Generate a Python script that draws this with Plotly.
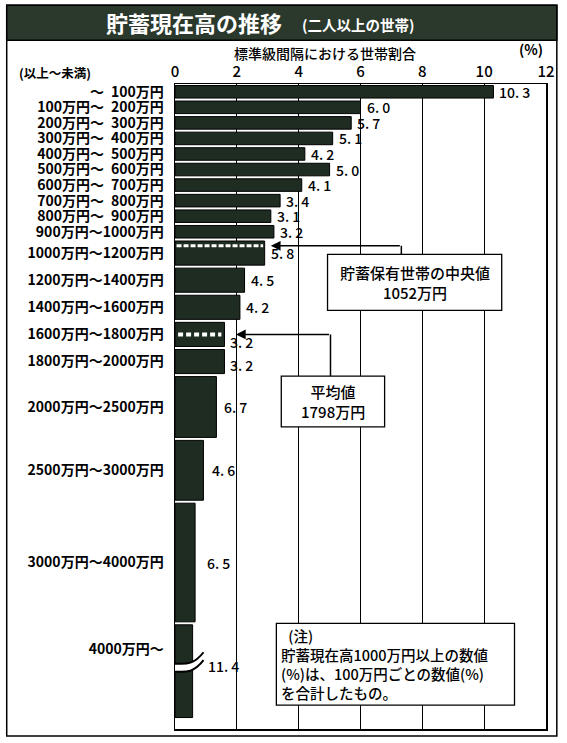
import plotly.graph_objects as go
import numpy as np

# ---------------- data ----------------
labels = ["～\u2002100万円", "100万円～\u2002200万円", "200万円～\u2002300万円", "300万円～\u2002400万円",
          "400万円～\u2002500万円", "500万円～\u2002600万円", "600万円～\u2002700万円", "700万円～\u2002800万円",
          "800万円～\u2002900万円", "900万円～1000万円", "1000万円～1200万円", "1200万円～1400万円",
          "1400万円～1600万円", "1600万円～1800万円", "1800万円～2000万円", "2000万円～2500万円",
          "2500万円～3000万円", "3000万円～4000万円", "4000万円～"]
pct = [10.3, 6.0, 5.7, 5.1, 4.2, 5.0, 4.1, 3.4, 3.1, 3.2, 5.8, 4.5, 4.2, 3.2, 3.2, 6.7, 4.6, 6.5, 11.4]
lower = [0, 100, 200, 300, 400, 500, 600, 700, 800, 900, 1000, 1200, 1400, 1600, 1800, 2000, 2500, 3000, 4000]
class_width = [1] * 10 + [2] * 5 + [5, 5, 10, 20]   # in 100万円 units (last one: open class, display only)
median_val = 1052
mean_val = 1798
x_ticks = [0, 2, 4, 6, 8, 10, 12]

# ---------------- layout helpers (style) ----------------
W, H = 567, 743
ML, MR, MT, MB = 175, 15, 84, 12
PW, PH = W - ML - MR, H - MT - MB
row_h = [15.6] * 10 + [27.2] * 5 + [64, 63, 122, 96]
gap = 3
FONT = "Noto Sans CJK JP"
BAR = "#1e2c21"

tops = np.concatenate([[0], np.cumsum(row_h)[:-1]])
centers = tops + np.array(row_h) / 2
lengths = [p / w for p, w in zip(pct, class_width)]
xs = PW / 12.0  # px per x unit


def px(x):
    return (x - ML) / PW


def py(y):
    return 1 - (y - MT) / PH


fig = go.Figure()
fig.add_trace(go.Bar(
    orientation="h", x=lengths, y=centers, width=[h - gap for h in row_h],
    marker=dict(color=BAR, line=dict(color="black", width=1)),
    hoverinfo="skip", showlegend=False))

shapes = []
ann = []

# value labels
dx = [4] * 15 + [6, 7, 10, 13]
dy = [0] * 13 + [-8, -3] + [0, 0, 0, 5]
for i, (L, v) in enumerate(zip(lengths, pct)):
    ann.append(dict(x=L, y=centers[i], xref="x", yref="y", text=f"{v:.1f}".replace(".", ". "),
                    showarrow=False, xanchor="left", yanchor="middle", xshift=dx[i], yshift=dy[i],
                    font=dict(family=FONT, size=14, color="black", weight=500)))


def marker_y(val):
    for i in range(len(lower) - 1):
        if lower[i] <= val < lower[i + 1]:
            return tops[i], row_h[i], (val - lower[i]) / (lower[i + 1] - lower[i]), i
    return None


# median marker (interpolated within its class)
t, h, f, im = marker_y(median_val)
y_med = t + gap / 2 + 1 + f * (h - gap) * 0.6
shapes.append(dict(type="line", xref="x", yref="y", x0=0.05, x1=lengths[im] - 0.05, y0=y_med, y1=y_med,
                   line=dict(color="white", width=3, dash="5px,2px"), layer="above"))
# mean marker (drawn at centre of its class bar)
t, h, f, iM = marker_y(mean_val)
y_mean = centers[iM]
shapes.append(dict(type="line", xref="x", yref="y", x0=0.1, x1=lengths[iM] - 0.1, y0=y_mean, y1=y_mean,
                   line=dict(color="white", width=4, dash="5px,3px"), layer="above"))

# boxes (x in axis units, y in row units)
med_box = dict(x0=(330 - ML) / xs, x1=(507 - ML) / xs, y0=255 - MT, y1=311 - MT)
mean_box = dict(x0=(283 - ML) / xs, x1=(388 - ML) / xs, y0=377 - MT, y1=428 - MT)
note_box = dict(x0=(278 - ML) / xs, x1=(520 - ML) / xs, y0=625 - MT, y1=707 - MT)
for b in (med_box, mean_box, note_box):
    shapes.append(dict(type="rect", xref="x", yref="y", fillcolor="white",
                       line=dict(color="black", width=1.3), layer="above", **b))

# connectors
med_cx = (405 - ML) / xs
mean_cx = (333 - ML) / xs
shapes.append(dict(type="line", xref="x", yref="y", x0=med_cx, x1=med_cx, y0=y_med, y1=med_box["y0"],
                   line=dict(color="black", width=1.5), layer="above"))
shapes.append(dict(type="line", xref="x", yref="y", x0=mean_cx, x1=mean_cx, y0=y_mean, y1=mean_box["y0"],
                   line=dict(color="black", width=1.5), layer="above"))
ann.append(dict(x=lengths[im] + 0.2, y=y_med, xref="x", yref="y", ax=med_cx, ay=y_med, axref="x", ayref="y",
                text="", showarrow=True, arrowhead=2, arrowsize=1.3, arrowwidth=1.5, arrowcolor="black",
                standoff=0))
ann.append(dict(x=lengths[iM] + 0.37, y=y_mean, xref="x", yref="y", ax=mean_cx, ay=y_mean, axref="x",
                ayref="y", text="", showarrow=True, arrowhead=2, arrowsize=1.3, arrowwidth=1.5,
                arrowcolor="black", standoff=0))

ann.append(dict(x=(med_box["x0"] + med_box["x1"]) / 2, y=(med_box["y0"] + med_box["y1"]) / 2,
                xref="x", yref="y", showarrow=False, xanchor="center", yanchor="middle",
                text="貯蓄保有世帯の中央値<br>" + f"{median_val}万円",
                font=dict(family=FONT, size=15, color="black", weight=500)))
ann.append(dict(x=(mean_box["x0"] + mean_box["x1"]) / 2, y=(mean_box["y0"] + mean_box["y1"]) / 2,
                xref="x", yref="y", showarrow=False, xanchor="center", yanchor="middle",
                text="平均値<br>" + f"{mean_val}万円",
                font=dict(family=FONT, size=15, color="black", weight=500)))
ann.append(dict(x=note_box["x0"], y=(note_box["y0"] + note_box["y1"]) / 2, xref="x", yref="y",
                showarrow=False, xanchor="left", yanchor="middle", align="left", xshift=3,
                text="\u2002(注)<br>貯蓄現在高1000万円以上の数値<br>(%)は、100万円ごとの数値(%)<br>を合計したもの。",
                font=dict(family=FONT, size=14.5, color="black", weight=500)))

# axis break mark on last bar
yc = centers[-1] - 6


def curve(d):
    pts = [(-11, 5 + d), (-2, -10 + d), (12, 9 + d), (29, -13 + d)]
    return [(p[0] / xs, yc + p[1]) for p in pts]


cu, cl = curve(0), curve(8)
band = (f"M {cu[0][0]},{cu[0][1]} C {cu[1][0]},{cu[1][1]} {cu[2][0]},{cu[2][1]} {cu[3][0]},{cu[3][1]} "
        f"L {cl[3][0]},{cl[3][1]} C {cl[2][0]},{cl[2][1]} {cl[1][0]},{cl[1][1]} {cl[0][0]},{cl[0][1]} Z")
shapes.append(dict(type="path", xref="x", yref="y", path=band, fillcolor="white",
                   line=dict(width=0), layer="above"))
for c in (cu, cl):
    shapes.append(dict(type="path", xref="x", yref="y",
                       path=f"M {c[0][0]},{c[0][1]} C {c[1][0]},{c[1][1]} {c[2][0]},{c[2][1]} {c[3][0]},{c[3][1]}",
                       line=dict(color="black", width=2), layer="above"))

# frame + title bar
shapes.append(dict(type="rect", xref="paper", yref="paper", x0=px(4), x1=px(563), y0=py(738), y1=py(5),
                   line=dict(color="black", width=1.5), fillcolor="rgba(0,0,0,0)", layer="above"))
shapes.append(dict(type="rect", xref="paper", yref="paper", x0=px(4), x1=px(563), y0=py(40), y1=py(5),
                   line=dict(color="black", width=1.5), fillcolor="#2b392d", layer="above"))


def pann(x, y, text, size, xanchor="center", weight="normal", color="black"):
    ann.append(dict(x=px(x), y=py(y), xref="paper", yref="paper", showarrow=False, text=text,
                    xanchor=xanchor, yanchor="middle",
                    font=dict(family=FONT, size=size, color=color, weight=weight)))


pann(194, 22, "貯蓄現在高の推移", 22, weight="bold", color="white")
pann(361, 24, "(二人以上の世帯)", 14.5, weight="bold", color="white")
pann(327, 53, "標準級間隔における世帯割合", 14, weight=500)
pann(537, 49, "(%)", 14, weight="bold")
pann(14, 72, "(以上～未満)", 12.5, xanchor="left", weight="bold")

tickvals = list(centers)
tickvals[-1] = centers[-1] - 22

fig.update_layout(
    width=W, height=H, autosize=False,
    margin=dict(l=ML, r=MR, t=MT, b=MB),
    plot_bgcolor="white", paper_bgcolor="white",
    bargap=0, shapes=shapes, annotations=ann,
    xaxis=dict(range=[0, 12], side="top", tickvals=x_ticks, showgrid=True, gridcolor="black", gridwidth=1,
               showline=True, mirror=True, linecolor="black", linewidth=1.5, zeroline=False,
               tickfont=dict(family=FONT, size=15, color="black", weight=500), ticks="", ticklen=0,
               fixedrange=True),
    yaxis=dict(range=[PH, 0], tickvals=tickvals, ticktext=labels, showgrid=False, zeroline=False,
               showline=True, mirror=True, linecolor="black", linewidth=1.5, ticks="", ticklen=0,
               ticklabelstandoff=7, fixedrange=True,
               tickfont=dict(family=FONT, size=14, color="black", weight="bold")),
)

fig.write_html("out.html", config={"displayModeBar": False, "staticPlot": True},
               post_script="document.body.style.margin='0';document.body.style.overflow='hidden';")
